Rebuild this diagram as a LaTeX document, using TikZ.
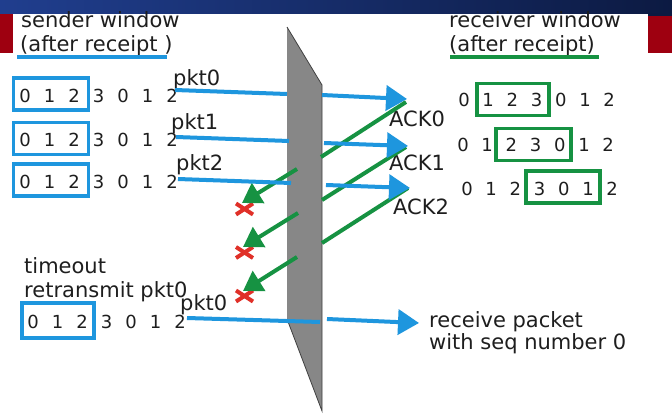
\documentclass[tikz,border=0pt]{standalone}
\usepackage{fontspec}
\setmainfont{DejaVu Sans}
\usetikzlibrary{arrows.meta,calc}
\definecolor{pblue}{RGB}{30,150,222}
\definecolor{agreen}{RGB}{22,146,66}
\definecolor{xred}{RGB}{224,48,40}
\definecolor{wallg}{RGB}{135,135,135}
\definecolor{navyL}{RGB}{32,62,142}
\definecolor{navyR}{RGB}{12,26,66}
\definecolor{bred}{RGB}{158,0,16}
\definecolor{txt}{RGB}{30,30,30}
\begin{document}
\begin{tikzpicture}[x=1pt,y=-1pt,
  lbl/.style={inner sep=0pt, anchor=base west, text=txt, font=\fontsize{21}{25}\selectfont},
  dig/.style={inner sep=0pt, anchor=center, text=txt, font=\fontsize{18}{20}\selectfont},
  sbox/.style={draw=pblue, line width=3.5pt, inner sep=0pt, minimum width=75pt, minimum height=32pt},
  rbox/.style={draw=agreen, line width=3.5pt, inner sep=0pt, minimum width=72pt, minimum height=32pt},
  pkt/.style={pblue, line width=4pt},
  pkta/.style={pkt, -{Triangle[length=21pt,width=25pt]}},
  ack/.style={agreen, line width=4pt},
  acka/.style={ack, -{Triangle[length=19pt,width=23pt]}},
  xmark/.style={xred, line width=4pt},
  uline/.style={line width=4pt}
]
\useasboundingbox (0,0) rectangle (672,420);
\fill[white] (0,0) rectangle (672,420);
% header band
\shade[left color=navyL, right color=navyR] (0,0) rectangle (672,14);
\fill[navyR] (648,13) rectangle (672,16);
\fill[bred] (0,14) rectangle (13,53);
\fill[bred] (648,16) rectangle (672,53);

% wall
\fill[wallg] (287,27) -- (322,85) -- (322,411) -- (287,319) -- cycle;
\draw[black!75, line width=0.8pt] (287,27) -- (322,85) -- (322,411) -- (287,319);

% titles
\node[lbl] (stitle1) at (21,28) {sender window};
\node[lbl] (stitle2) at (20,52) {(after receipt )};
\draw[pblue, uline] (17,57) -- (167,57);
\node[lbl] (rtitle1) at (449,28) {receiver window};
\node[lbl] (rtitle2) at (449,52) {(after receipt)};
\draw[agreen, uline] (450,57) -- (599,57);

% sender rows
\foreach \r/\y in {1/96, 2/140, 3/182, 4/322}{
  \ifnum\r=4 \def\xo{33}\else \def\xo{25}\fi
  \foreach \d [count=\i] in {0,1,2,3,0,1,2}{
    \node[dig] (s\r d\i) at ({\xo+(\i-1)*24.5},\y) {\d};
  }
}
\node[sbox] (sb1) at (51,94) {};
\node[sbox] (sb2) at (51,138.5) {};
\node[sbox] (sb3) at (51,180) {};
\node[sbox, minimum width=72pt, minimum height=35pt] (sb4) at (58,320.5) {};

% receiver rows
\foreach \r/\y/\xo in {1/100/464, 2/145/463, 3/189/467}{
  \foreach \d [count=\i] in {0,1,2,3,0,1,2}{
    \node[dig] (r\r d\i) at ({\xo+(\i-1)*24.2},\y) {\d};
  }
}
\node[rbox] (rb1) at (513,99.5) {};
\node[rbox, minimum width=75pt] (rb2) at (533.5,144.5) {};
\node[rbox, minimum width=74pt] (rb3) at (563,187) {};

% packet labels
\node[lbl] (l0) at (173,85) {pkt0};
\node[lbl] (l1) at (171,129) {pkt1};
\node[lbl] (l2) at (176,170) {pkt2};
\node[lbl] (l3) at (180,310) {pkt0};
\node[lbl] (a0) at (389,126) {ACK0};
\node[lbl] (a1) at (389,170) {ACK1};
\node[lbl] (a2) at (393,214) {ACK2};
\node[lbl] (tmo) at (24,273) {timeout};
\node[lbl] (rtx) at (24,297) {retransmit pkt0};
\node[lbl] (rcv1) at (429,327) {receive packet};
\node[lbl] (rcv2) at (429,349) {with seq number 0};

% loss marks
\foreach \n/\y in {1/209, 2/252.5, 3/296}{
  \coordinate (x\n) at (244.5,\y);
  \draw[xmark] ($(x\n)+(-8.5,-5.5)$) -- ($(x\n)+(8.5,5.5)$);
  \draw[xmark] ($(x\n)+(-8.5,5.5)$) -- ($(x\n)+(8.5,-5.5)$);
}

% coordinates for connectors
\coordinate (p0a) at (175,90);  \coordinate (p0b) at (287,94);
\coordinate (p0c) at (322,95);  \coordinate (p0d) at (407,99);
\coordinate (p1a) at (176,137); \coordinate (p1b) at (289,141);
\coordinate (p1c) at (324,143); \coordinate (p1d) at (408,146);
\coordinate (p2a) at (178,179); \coordinate (p2b) at (291,183);
\coordinate (p2c) at (326,185); \coordinate (p2d) at (410,188);
\coordinate (p3a) at (187,318); \coordinate (p3b) at (320,322);
\coordinate (p3c) at (327,319); \coordinate (p3d) at (419,323);

\coordinate (k0a) at (406,102); \coordinate (k0b) at (321,157);
\coordinate (k0c) at (297,169); \coordinate (k0d) at (242,203);
\coordinate (k1a) at (406,147); \coordinate (k1b) at (322,200);
\coordinate (k1c) at (298,213); \coordinate (k1d) at (243,247);
\coordinate (k2a) at (408,188); \coordinate (k2b) at (322,243);
\coordinate (k2c) at (297,257); \coordinate (k2d) at (243,291);

% ACK lines (green)
\draw[ack] (k0a) -- (k0b);
\draw[acka] (k0c) -- (k0d);
\draw[ack] (k1a) -- (k1b);
\draw[acka] (k1c) -- (k1d);
\draw[ack] (k2a) -- (k2b);
\draw[acka] (k2c) -- (k2d);

% packet lines (blue)
\draw[pkt] (p0a) -- (p0b);
\draw[pkta] (p0c) -- (p0d);
\draw[pkt] (p1a) -- (p1b);
\draw[pkta] (p1c) -- (p1d);
\draw[pkt] (p2a) -- (p2b);
\draw[pkta] (p2c) -- (p2d);
\draw[pkt] (p3a) -- (p3b);
\draw[pkta] (p3c) -- (p3d);
\end{tikzpicture}
\end{document}
